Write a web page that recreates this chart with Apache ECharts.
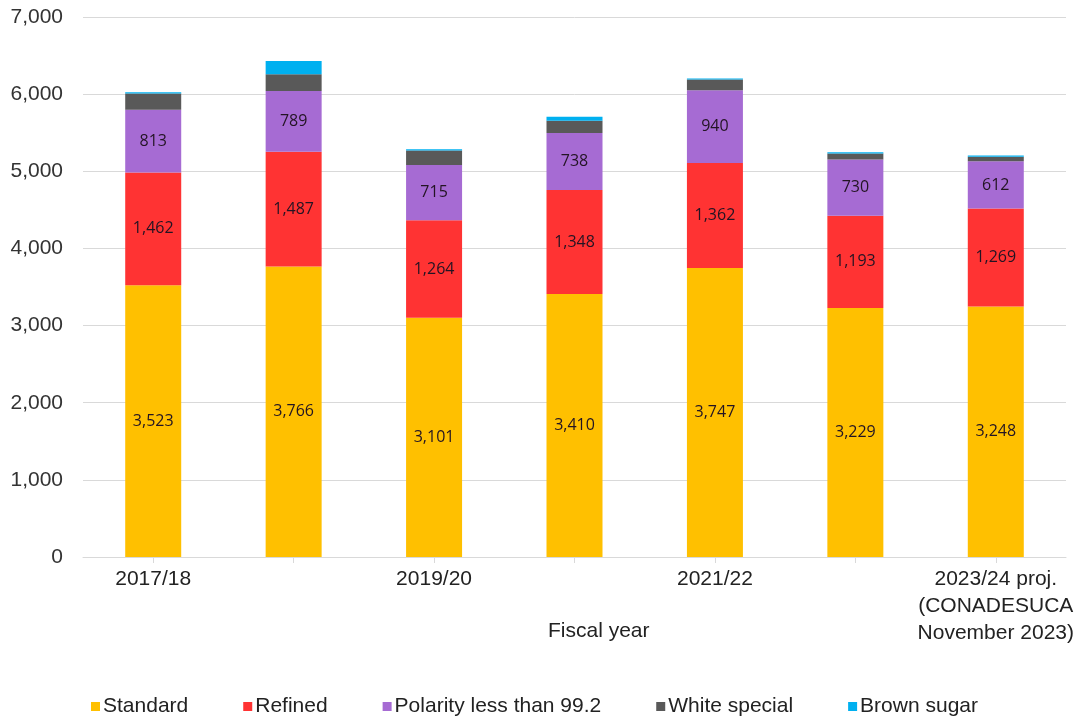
<!DOCTYPE html>
<html>
<head>
<meta charset="utf-8">
<script src="https://cdn.jsdelivr.net/npm/echarts@6/dist/echarts.min.js"></script>
<style>html,body{margin:0;padding:0;background:#fff}#c{width:1081px;height:724px}</style>
</head>
<body>
<div id="c"></div>
<script>
const categories = ['2017/18', '2018/19', '2019/20', '2020/21', '2021/22', '2022/23', '2023/24 proj.\n(CONADESUCA\nNovember 2023)'];
const standard = [3523, 3766, 3101, 3410, 3747, 3229, 3248];
const refined = [1462, 1487, 1264, 1348, 1362, 1193, 1269];
const polarity = [813, 789, 715, 738, 940, 730, 612];
const whiteSpecial = [210, 215, 190, 160, 140, 80, 60];
const brownSugar = [15, 172, 15, 50, 15, 15, 15];
const yTicks = [0, 1000, 2000, 3000, 4000, 5000, 6000, 7000];

const chart = echarts.init(document.getElementById('c'), null, {renderer: 'canvas'});
const fmt = v => v.toLocaleString('en-US');
const lbl = {show: true, position: 'inside', color: '#231423', fontFamily: 'Open Sans', fontSize: 16, formatter: p => fmt(p.value)};
function s(name, data, color, label) {
  return {name, type: 'bar', stack: 'a', data, barWidth: 56, itemStyle: {color}, label: label ? lbl : {show: false}, emphasis: {disabled: true}};
}
chart.setOption({
  animation: false,
  grid: {left: 83, right: 15, top: 17, bottom: 167},
  legend: {
    bottom: 2, left: 86, itemWidth: 9, itemHeight: 9, itemGap: 55,
    icon: 'rect',
    textStyle: {fontFamily: 'Liberation Sans', fontSize: 21, color: '#222', padding: [0, 0, 0, -2]},
    data: ['Standard', 'Refined', 'Polarity less than 99.2', 'White special', 'Brown sugar']
  },
  xAxis: {
    type: 'category', data: categories,
    axisLine: {lineStyle: {color: '#d9d9d9'}},
    axisTick: {show: true, alignWithLabel: true, interval: 0, length: 6, lineStyle: {color: '#d9d9d9'}},
    axisLabel: {interval: 1, color: '#222', fontFamily: 'Liberation Sans', fontSize: 21, lineHeight: 27, margin: 9}
  },
  yAxis: {
    type: 'value', min: 0, max: 7000, interval: 1000,
    axisLabel: {color: '#333', fontFamily: 'Liberation Sans', fontSize: 21, margin: 20, formatter: v => fmt(v)},
    splitLine: {lineStyle: {color: '#d9d9d9'}},
    axisLine: {show: false}, axisTick: {show: false}
  },
  graphic: [{type: 'text', left: 548, top: 621, style: {text: 'Fiscal year', fontFamily: 'Liberation Sans', fontSize: 21, fill: '#222'}}],
  series: [
    s('Standard', standard, '#FFC000', true),
    s('Refined', refined, '#FF3333', true),
    s('Polarity less than 99.2', polarity, '#A66BD3', true),
    s('White special', whiteSpecial, '#595959', false),
    s('Brown sugar', brownSugar, '#00B0F0', false)
  ]
});
</script>
</body>
</html>
